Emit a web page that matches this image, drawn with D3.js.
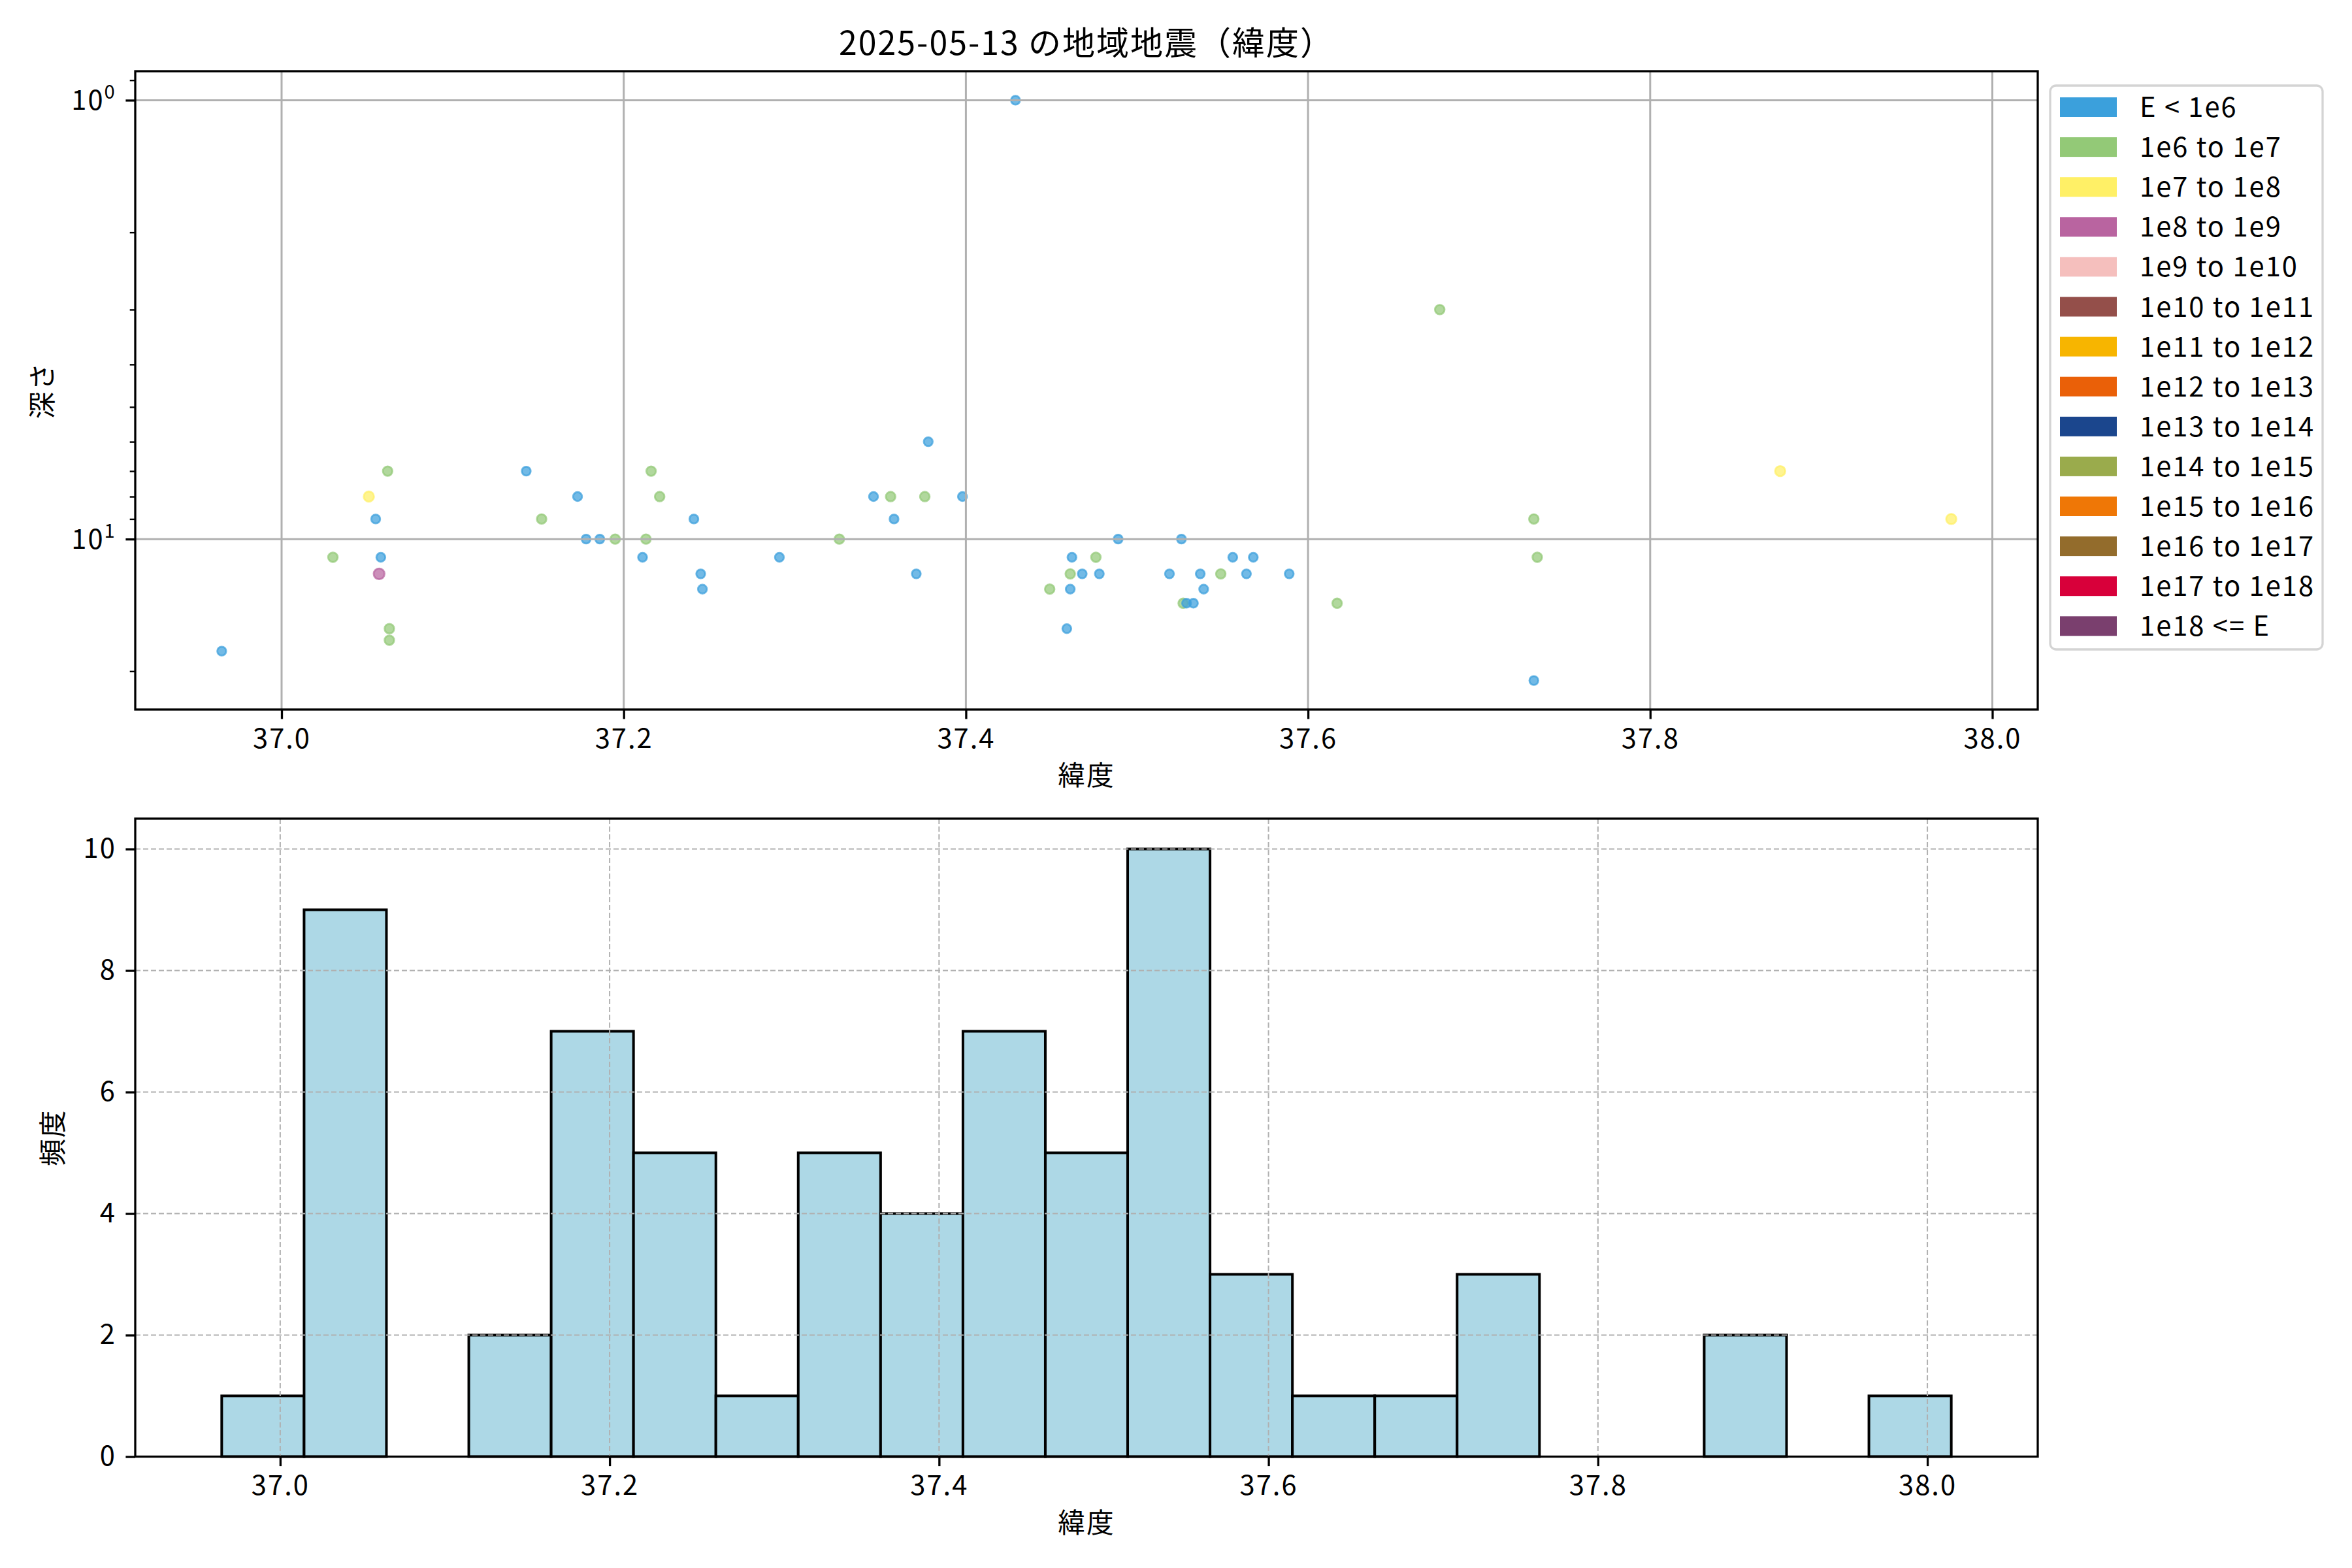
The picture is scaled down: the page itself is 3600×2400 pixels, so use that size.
<!DOCTYPE html>
<html><head><meta charset="utf-8">
<script src="https://cdn.jsdelivr.net/npm/d3@7"></script>
<style>
body{margin:0;background:#fff}
svg{display:block}
text{font-family:"Noto Sans CJK JP","Noto Sans",sans-serif;fill:#000;letter-spacing:2px}
</style>
</head><body>
<svg id="chart" width="3600" height="2400"></svg>
<script>
// ---------- data ----------
const latitudes = [36.965,37.030,37.062,37.051,37.055,37.058,37.057,37.063,37.063,37.143,
  37.173,37.152,37.178,37.186,37.195,37.213,37.216,37.221,37.211,37.241,
  37.245,37.246,37.291,37.326,37.346,37.356,37.358,37.376,37.378,37.371,
  37.398,37.429,37.449,37.459,37.461,37.461,37.462,37.468,37.476,37.478,
  37.489,37.519,37.526,37.527,37.529,37.533,37.537,37.539,37.549,37.556,
  37.564,37.568,37.589,37.617,37.677,37.732,37.734,37.732,37.876,37.976];
const depths = [18,11,7,8,9,11,12,16,17,7,
  8,9,10,10,10,10,7,8,11,9,
  12,13,11,10,8,8,9,8,6,12,
  8,1,13,16,13,12,11,12,11,12,
  10,12,10,14,14,14,12,13,12,11,
  12,11,12,14,3,9,11,21,7,9];
const energyClass = [0,1,1,2,0,0,3,1,1,0,
  0,1,0,0,1,1,1,1,0,0,
  0,0,0,1,0,1,0,1,0,0,
  0,0,1,0,0,1,0,0,1,0,
  0,0,0,1,0,0,0,0,1,0,
  0,0,0,1,1,1,1,0,2,2];
const energyLabels = ["E < 1e6","1e6 to 1e7","1e7 to 1e8","1e8 to 1e9","1e9 to 1e10",
  "1e10 to 1e11","1e11 to 1e12","1e12 to 1e13","1e13 to 1e14","1e14 to 1e15",
  "1e15 to 1e16","1e16 to 1e17","1e17 to 1e18","1e18 <= E"];
const energyColors = ["#3ba0dc","#93c977","#fff066","#b964a0","#f5bfbd",
  "#944f4a","#f7b500","#ea6008","#1b468d","#9aab4c",
  "#ef7706","#936c2c","#d8003a","#7a3f6e"];
// histogram (counts per 0.05° bin)
const histBinStart = 36.9645;
const histBinWidth = 0.05;
const histCounts = [1,9,0,2,7,5,1,5,4,7,5,10,3,1,1,3,0,0,2,0,1];
const latTicks = [37.0,37.2,37.4,37.6,37.8,38.0];
const depthMajorTicks = [1,10];
const depthMinorTicks = [0.9,2,3,4,5,6,7,8,9,20];
const countTicks = [0,2,4,6,8,10];
const titleText = "2025-05-13 の地域地震（緯度）";

// ---------- layout ----------
const svg = d3.select("#chart");
const FS = 41.7;
const FF = '"Noto Sans CJK JP","Noto Sans",sans-serif';
const L = 207, R = 3119;
const topAx = {t:109, b:1086};
const botAx = {t:1253, b:2229.5};
const tickLen = 14.6, minorLen = 8.3, tickPad = 14.6;
const spineW = 3.3;

// ---------- top scatter ----------
const latExt = d3.extent(latitudes);
const latPad = (latExt[1]-latExt[0])*0.05;
const xTop = d3.scaleLinear().domain([latExt[0]-latPad, latExt[1]+latPad]).range([L,R]);
const posDepth = depths.filter(d=>d>0);
const lmin = Math.log10(d3.min(posDepth)), lmax = Math.log10(d3.max(posDepth));
const lpad = (lmax-lmin)*0.05;
const yTop = d3.scaleLog().domain([Math.pow(10,lmin-lpad), Math.pow(10,lmax+lpad)]).range([topAx.t, topAx.b]);

const gTop = svg.append("g");
const pts = latitudes.map((v,i)=>({lat:v, depth:depths[i], cls:energyClass[i]})).filter(p=>p.depth>0);
gTop.selectAll("circle.pt").data(pts).enter().append("circle")
  .attr("class","pt")
  .attr("cx",d=>xTop(d.lat)).attr("cy",d=>yTop(d.depth))
  .attr("r",d=>6.8+0.5*d.cls)
  .attr("fill",d=>energyColors[d.cls]).attr("fill-opacity",0.72)
  .attr("stroke",d=>energyColors[d.cls]).attr("stroke-opacity",0.72).attr("stroke-width",2.8);

// grid (above points, like matplotlib default)
gTop.selectAll("line.gx").data(latTicks).enter().append("line")
  .attr("x1",d=>xTop(d)).attr("x2",d=>xTop(d)).attr("y1",topAx.t).attr("y2",topAx.b)
  .attr("stroke","#b0b0b0").attr("stroke-width",3);
gTop.selectAll("line.gy").data(depthMajorTicks).enter().append("line")
  .attr("y1",d=>yTop(d)).attr("y2",d=>yTop(d)).attr("x1",L).attr("x2",R)
  .attr("stroke","#b0b0b0").attr("stroke-width",3);

const xAxTop = gTop.append("g").attr("transform",`translate(0,${topAx.b})`)
  .call(d3.axisBottom(xTop).tickValues(latTicks).tickFormat(d3.format(".1f")).tickSize(tickLen).tickPadding(tickPad));
const yAxTop = gTop.append("g").attr("transform",`translate(${L},0)`)
  .call(d3.axisLeft(yTop).tickValues(depthMajorTicks).tickFormat("").tickSize(tickLen));
const yAxTopMinor = gTop.append("g").attr("transform",`translate(${L},0)`)
  .call(d3.axisLeft(yTop).tickValues(depthMinorTicks).tickFormat("").tickSize(minorLen));
[xAxTop,yAxTop,yAxTopMinor].forEach(a=>{
  a.select(".domain").remove();
  a.selectAll(".tick line").attr("stroke","#000").attr("stroke-width",spineW);
  a.selectAll("text").attr("font-size",FS).attr("font-family",FF);
});
yAxTopMinor.selectAll(".tick line").attr("stroke-width",2.4);
depthMajorTicks.forEach(v=>{
  const t = gTop.append("text").attr("x",L-tickLen-tickPad).attr("y",yTop(v)+15)
    .attr("text-anchor","end").attr("font-size",FS);
  t.append("tspan").text("10");
  t.append("tspan").attr("font-size",FS*0.7).attr("dy",-17).text(Math.round(Math.log10(v)));
});
gTop.append("rect").attr("x",L).attr("y",topAx.t).attr("width",R-L).attr("height",topAx.b-topAx.t)
  .attr("fill","none").attr("stroke","#000").attr("stroke-width",spineW);
gTop.append("text").attr("x",(L+R)/2).attr("y",1202).attr("text-anchor","middle").attr("font-size",FS).text("緯度");
gTop.append("text").attr("transform",`translate(80,${(topAx.t+topAx.b)/2}) rotate(-90)`)
  .attr("text-anchor","middle").attr("font-size",FS).text("深さ");
svg.append("text").attr("x",(L+R)/2).attr("y",84).attr("text-anchor","middle").attr("font-size",50).text(titleText);

// legend
const lg = svg.append("g");
lg.append("rect").attr("x",3138).attr("y",131).attr("width",417).attr("height",863).attr("rx",9)
  .attr("fill","#fff").attr("fill-opacity",0.8).attr("stroke","#d4d4d4").attr("stroke-width",3.3);
const rowStep = 61.1;
energyLabels.forEach((lab,i)=>{
  const cy = 164 + i*rowStep;
  lg.append("rect").attr("x",3153).attr("y",cy-15).attr("width",87).attr("height",30).attr("fill",energyColors[i]);
  lg.append("text").attr("x",3275).attr("y",cy+15).attr("font-size",FS).text(lab);
});

// ---------- bottom histogram ----------
const bins = histCounts.map((c,i)=>({x0:histBinStart+i*histBinWidth, x1:histBinStart+(i+1)*histBinWidth, n:c}));
const hLo = bins[0].x0, hHi = bins[bins.length-1].x1, hPad = (hHi-hLo)*0.05;
const xBot = d3.scaleLinear().domain([hLo-hPad, hHi+hPad]).range([L,R]);
const yBot = d3.scaleLinear().domain([0, d3.max(histCounts)*1.05]).range([botAx.b, botAx.t]);
const gBot = svg.append("g");
gBot.selectAll("rect.bar").data(bins).enter().append("rect").attr("class","bar")
  .attr("x",d=>xBot(d.x0)).attr("width",d=>xBot(d.x1)-xBot(d.x0))
  .attr("y",d=>yBot(d.n)).attr("height",d=>yBot(0)-yBot(d.n))
  .attr("fill","#add8e6").attr("stroke","#000").attr("stroke-width",4);
gBot.selectAll("line.gx").data(latTicks).enter().append("line")
  .attr("x1",d=>xBot(d)).attr("x2",d=>xBot(d)).attr("y1",botAx.t).attr("y2",botAx.b)
  .attr("stroke","#b0b0b0").attr("stroke-width",2).attr("stroke-dasharray","8,4");
gBot.selectAll("line.gy").data(countTicks).enter().append("line")
  .attr("y1",d=>yBot(d)).attr("y2",d=>yBot(d)).attr("x1",L).attr("x2",R)
  .attr("stroke","#b0b0b0").attr("stroke-width",2).attr("stroke-dasharray","8,4");
const xAxBot = gBot.append("g").attr("transform",`translate(0,${botAx.b})`)
  .call(d3.axisBottom(xBot).tickValues(latTicks).tickFormat(d3.format(".1f")).tickSize(tickLen).tickPadding(tickPad));
const yAxBot = gBot.append("g").attr("transform",`translate(${L},0)`)
  .call(d3.axisLeft(yBot).tickValues(countTicks).tickFormat(d3.format("d")).tickSize(tickLen).tickPadding(tickPad));
[xAxBot,yAxBot].forEach(a=>{
  a.select(".domain").remove();
  a.selectAll(".tick line").attr("stroke","#000").attr("stroke-width",spineW);
  a.selectAll("text").attr("font-size",FS).attr("font-family",FF);
});
gBot.append("rect").attr("x",L).attr("y",botAx.t).attr("width",R-L).attr("height",botAx.b-botAx.t)
  .attr("fill","none").attr("stroke","#000").attr("stroke-width",spineW);
gBot.append("text").attr("x",(L+R)/2).attr("y",2346).attr("text-anchor","middle").attr("font-size",FS).text("緯度");
gBot.append("text").attr("transform",`translate(96,${(botAx.t+botAx.b)/2}) rotate(-90)`)
  .attr("text-anchor","middle").attr("font-size",FS).text("頻度");
</script>
</body></html>
